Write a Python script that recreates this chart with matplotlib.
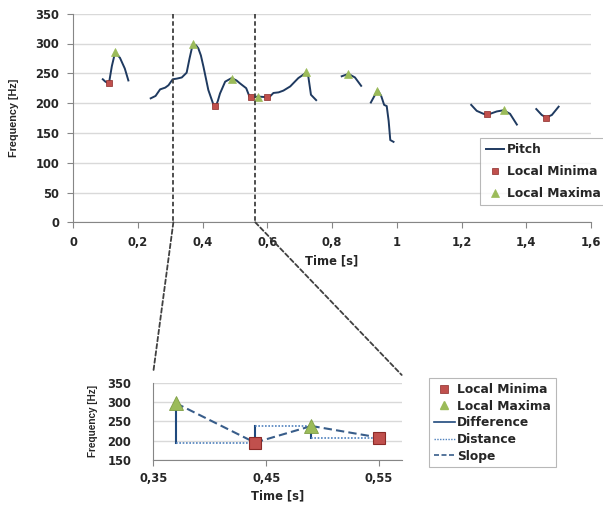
import numpy as np
import matplotlib
matplotlib.use("Agg")
import matplotlib.pyplot as plt
from matplotlib.lines import Line2D
from matplotlib.patches import ConnectionPatch

nan = np.nan
# ---- data ----
pitch_time = [0.092, 0.100, 0.111, 0.120, 0.130, 0.145, 0.160, 0.171, nan,
              0.240, 0.255, 0.269, 0.285, 0.295, 0.308, 0.320, 0.336, 0.351, 0.360, 0.370, 0.380, 0.387,
              0.395, 0.403, 0.418, 0.434, 0.441, 0.447, 0.454, 0.470, 0.490, 0.505, 0.516, 0.535,
              0.545, 0.550, 0.570, 0.598, 0.610, 0.619, 0.635, 0.650, 0.671, 0.696, 0.720, 0.727,
              0.735, 0.751, nan,
              0.830, 0.851, 0.871, 0.890, nan,
              0.920, 0.941, 0.952, 0.961, 0.969, 0.975, 0.980, 0.990, nan,
              1.230, 1.247, 1.268, 1.283, 1.309, 1.330, 1.350, 1.371, nan,
              1.431, 1.448, 1.462, 1.479, 1.500]
pitch_freq = [240, 236, 233, 262, 285, 276, 258, 238, nan,
              208, 212, 223, 226, 230, 240, 241, 243, 251, 275, 299, 297, 292,
              280, 261, 222, 197, 195, 203, 216, 236, 242, 238, 233, 225,
              211, 209, 211, 210, 212, 217, 218, 221, 228, 242, 251, 244,
              214, 205, nan,
              245, 249, 243, 229, nan,
              201, 222, 212, 197, 195, 170, 138, 135, nan,
              197, 187, 182, 181, 186, 188, 182, 164, nan,
              190, 180, 176, 180, 194]

min_time = [0.11, 0.44, 0.55, 0.60, 1.28, 1.46]
min_freq = [233, 195, 210, 210, 181, 175]
max_time = [0.13, 0.37, 0.49, 0.57, 0.72, 0.85, 0.94, 1.33]
max_freq = [285, 299, 240, 211, 252, 248, 221, 188]

zoom_range = [0.31, 0.563]

inset_min_time = [0.44, 0.55]
inset_min_freq = [195, 208]
inset_max_time = [0.37, 0.49]
inset_max_freq = [297, 238]
# sequence of extrema used for difference / distance / slope
ext_time = [0.37, 0.44, 0.49, 0.55]
ext_freq = [297, 195, 238, 208]

main_xticks = [0, 0.2, 0.4, 0.6, 0.8, 1.0, 1.2, 1.4, 1.6]
main_xticklabels = ["0", "0,2", "0,4", "0,6", "0,8", "1", "1,2", "1,4", "1,6"]
main_yticks = [0, 50, 100, 150, 200, 250, 300, 350]
inset_xticks = [0.35, 0.45, 0.55]
inset_xticklabels = ["0,35", "0,45", "0,55"]
inset_yticks = [150, 200, 250, 300, 350]

# ---- styles ----
PITCH = "#1F3A60"
MINC = "#C0504D"
MINE = "#8B2A27"
MAXC = "#9BBB59"
GRID = "#D9D9D9"
AXC = "#868686"
TXT = "#262626"
LBL_FAMILY = ["Liberation Sans Narrow", "DejaVu Sans Condensed", "Liberation Sans"]

plt.rcParams["font.family"] = ["DejaVu Sans"]

fig = plt.figure(figsize=(6.03, 5.08), dpi=100)

ax = fig.add_axes([73/603, 1-222.3/508, (591-73)/603, (222.3-13.7)/508])
ax.set_xlim(0, 1.6)
ax.set_ylim(0, 350)
ax.set_xticks(main_xticks)
ax.set_xticklabels(main_xticklabels)
ax.set_yticks(main_yticks)
ax.grid(axis="y", color=GRID, linewidth=1.0, zorder=0)
ax.set_axisbelow(True)
for s in ["top", "right"]:
    ax.spines[s].set_visible(False)
for s in ["left", "bottom"]:
    ax.spines[s].set_color(AXC)
    ax.spines[s].set_linewidth(0.8)
ax.tick_params(colors=AXC, labelcolor=TXT, length=4, width=0.8, labelsize=8.3, pad=6)
for lab in ax.get_xticklabels() + ax.get_yticklabels():
    lab.set_fontweight("bold")

ax.plot(pitch_time, pitch_freq, color=PITCH, lw=1.4, label="Pitch", zorder=3)
ax.plot(min_time, min_freq, ls="none", marker="s", ms=4.5, mfc=MINC, mec=MINE, mew=0.5,
        label="Local Minima", zorder=4)
ax.plot(max_time, max_freq, ls="none", marker="^", ms=5.5, mfc=MAXC, mec=MAXC, mew=0.5,
        label="Local Maxima", zorder=4)

ax.set_xlabel("Time [s]", fontsize=8.3, fontweight="bold", color=TXT, labelpad=4)
ax.set_ylabel("Frequency [Hz]", fontsize=7.8, fontweight="bold", color=TXT,
              family=LBL_FAMILY)
ax.yaxis.set_label_coords(-0.104, 0.5)

leg = ax.legend(loc="upper left", bbox_to_anchor=(480/603, 1-137.7/508),
                bbox_transform=fig.transFigure, frameon=True, fancybox=False,
                edgecolor="#A6A6A6", fontsize=8.8, handlelength=1.5, handletextpad=0.25,
                borderpad=0.45, labelspacing=0.72, borderaxespad=0)
for t in leg.get_texts():
    t.set_fontweight("bold")
    t.set_color(TXT)
leg.get_frame().set_linewidth(0.8)

# zoom indicator lines
for xz in zoom_range:
    ax.plot([xz, xz], [350, 0], color="#404040", ls=(0, (2.5, 1.5)), lw=1.3, zorder=5,
            clip_on=False)

# ---- inset ----
axin = fig.add_axes([153.3/603, 1-460/508, (401.7-153.3)/603, (460-382.7)/508])
axin.set_xlim(0.35, 0.57)
axin.set_ylim(150, 350)
axin.set_xticks(inset_xticks)
axin.set_xticklabels(inset_xticklabels)
axin.set_yticks(inset_yticks)
axin.grid(axis="y", color=GRID, linewidth=1.0, zorder=0)
axin.set_axisbelow(True)
for s in ["top", "right"]:
    axin.spines[s].set_visible(False)
for s in ["left", "bottom"]:
    axin.spines[s].set_color(AXC)
    axin.spines[s].set_linewidth(0.8)
axin.tick_params(colors=AXC, labelcolor=TXT, length=4, width=0.8, labelsize=8.3, pad=5)
axin.tick_params(axis="y", length=0, pad=16)
for lab in axin.get_xticklabels() + axin.get_yticklabels():
    lab.set_fontweight("bold")
axin.set_xlabel("Time [s]", fontsize=8.3, fontweight="bold", color=TXT, labelpad=3)
axin.set_ylabel("Frequency [Hz]", fontsize=7.2, fontweight="bold", color=TXT,
                family=LBL_FAMILY)
axin.yaxis.set_label_coords(-0.223, 0.5)

DIFF = "#1F497D"
DIST = "#4F81BD"
SLOPE = "#385D8A"
for i in range(len(ext_time) - 1):
    x0, x1 = ext_time[i], ext_time[i + 1]
    y0, y1 = ext_freq[i], ext_freq[i + 1]
    axin.plot([x0, x0], [y0, y1], color=DIFF, lw=1.5, zorder=3)
    axin.plot([x0, x1], [y1, y1], color=DIST, lw=1.2, ls=(0, (1, 1)), zorder=3)
    axin.plot([x0, x1], [y0, y1], color=SLOPE, lw=1.5, ls=(0, (4, 2)), zorder=3)

axin.plot(inset_min_time, inset_min_freq, ls="none", marker="s", ms=8.5, mfc=MINC,
          mec=MINE, mew=0.8, zorder=5, clip_on=False)
axin.plot(inset_max_time, inset_max_freq, ls="none", marker="^", ms=9.5, mfc=MAXC,
          mec="#7F9F45", mew=0.6, zorder=5, clip_on=False)

handles = [
    Line2D([], [], ls="none", marker="s", ms=6, mfc=MINC, mec=MINE, mew=0.5),
    Line2D([], [], ls="none", marker="^", ms=6, mfc=MAXC, mec=MAXC),
    Line2D([], [], color=DIFF, lw=1.2),
    Line2D([], [], color=DIST, lw=1.0, ls=(0, (1, 1))),
    Line2D([], [], color=SLOPE, lw=1.2, ls=(0, (3, 1.5))),
]
labels = ["Local Minima", "Local Maxima", "Difference", "Distance", "Slope"]
leg2 = fig.legend(handles, labels, loc="upper left", bbox_to_anchor=(429/603, 1-378/508),
                  frameon=True, fancybox=False, edgecolor="#A6A6A6", fontsize=8.8,
                  handlelength=1.7, handletextpad=0.2, borderpad=0.4, labelspacing=0.3,
                  borderaxespad=0)
for t in leg2.get_texts():
    t.set_fontweight("bold")
    t.set_color(TXT)
leg2.get_frame().set_linewidth(0.8)

# connectors from main zoom lines to the inset
cp1 = ConnectionPatch(xyA=(zoom_range[0], 0), coordsA=ax.transData,
                      xyB=(0.0, 1.14), coordsB=axin.transAxes,
                      color="#404040", ls=(0, (2.5, 1.5)), lw=1.3)
cp2 = ConnectionPatch(xyA=(zoom_range[1], 0), coordsA=ax.transData,
                      xyB=(1.0, 1.10), coordsB=axin.transAxes,
                      color="#404040", ls=(0, (2.5, 1.5)), lw=1.3)
fig.add_artist(cp1)
fig.add_artist(cp2)

fig.savefig("out.png", dpi=100, facecolor="white")
